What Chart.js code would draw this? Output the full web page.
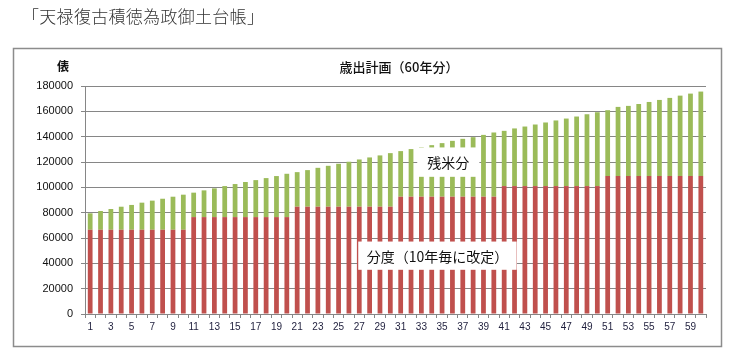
<!DOCTYPE html>
<html lang="ja">
<head>
<meta charset="utf-8">
<title>天禄復古積徳為政御土台帳</title>
<script src="https://cdn.jsdelivr.net/npm/chart.js@4/dist/chart.umd.min.js"></script>
<style>
  html, body { margin: 0; padding: 0; background: #fff; }
  #wrap { position: relative; width: 738px; height: 358px; }
  #grafico { position: absolute; left: 0; top: 0; }
  #encabezado {
    position: absolute; left: 22px; top: 3px;
    font-family: "Noto Sans CJK JP", sans-serif; font-weight: 300;
    font-size: 17px; color: #333; letter-spacing: 0.3px;
  }
</style>
</head>
<body>
<div id="wrap">
  <canvas id="grafico" width="738" height="358"></canvas>
  <div id="encabezado">「天禄復古積徳為政御土台帳」</div>
</div>
<script>
// años del plan (60 años)
const anios = [
  '1','2','3','4','5','6','7','8','9','10',
  '11','12','13','14','15','16','17','18','19','20',
  '21','22','23','24','25','26','27','28','29','30',
  '31','32','33','34','35','36','37','38','39','40',
  '41','42','43','44','45','46','47','48','49','50',
  '51','52','53','54','55','56','57','58','59','60'
];

// 分度 (se revisa cada 10 años)
const bundo = [
  66500, 66500, 66500, 66500, 66500, 66500, 66500, 66500, 66500, 66500,
  76500, 76500, 76500, 76500, 76500, 76500, 76500, 76500, 76500, 76500,
  84700, 84700, 84700, 84700, 84700, 84700, 84700, 84700, 84700, 84700,
  92600, 92600, 92600, 92600, 92600, 92600, 92600, 92600, 92600, 92600,
  101000, 101000, 101000, 101000, 101000, 101000, 101000, 101000, 101000, 101000,
  108900, 108900, 108900, 108900, 108900, 108900, 108900, 108900, 108900, 108900
];

// 残米分
const zanmai = [
  13000, 14800, 16400, 18200, 19600, 21400, 23000, 24500, 26100, 27700,
  19300, 21100, 22700, 24500, 26100, 27700, 29200, 30800, 32400, 34200,
  27300, 28900, 30700, 32300, 33900, 35500, 37300, 38900, 40500, 42300,
  36000, 37600, 39100, 40700, 42300, 44100, 45700, 47000, 48800, 50700,
  43600, 45500, 47000, 48600, 50200, 51800, 53300, 54900, 56700, 58300,
  52000, 54600, 55400, 56900, 58500, 60100, 61700, 63500, 65100, 66700
];

const ticksY = [0, 20000, 40000, 60000, 80000, 100000, 120000, 140000, 160000, 180000];

// etiquetas dentro del gráfico: texto, rango de categorías y rango de valores
const notas = [
  { texto: '残米分', desde: 31.6, hasta: 37.6, arriba: 131500, abajo: 108300 },
  { texto: '分度（10年毎に改定）', desde: 25.9, hasta: 41.2, arriba: 57200, abajo: 34900 }
];

const fuenteCJK = '"Noto Sans CJK JP", sans-serif';

const decoraciones = {
  id: 'decoraciones',
  afterDatasetsDraw(chart) {
    const { ctx, scales: { x, y } } = chart;
    ctx.save();
    notas.forEach(n => {
      const x1 = x.getPixelForValue(n.desde);
      const x2 = x.getPixelForValue(n.hasta);
      const y1 = y.getPixelForValue(n.arriba);
      const y2 = y.getPixelForValue(n.abajo);
      ctx.fillStyle = '#ffffff';
      ctx.fillRect(x1, y1, x2 - x1, y2 - y1);
      ctx.fillStyle = '#111';
      ctx.font = '14px ' + fuenteCJK;
      ctx.textAlign = 'center';
      ctx.textBaseline = 'middle';
      ctx.fillText(n.texto, (x1 + x2) / 2, (y1 + y2) / 2 + 1);
    });
    ctx.restore();
  },
  afterDraw(chart) {
    const { ctx } = chart;
    ctx.save();
    // marco exterior
    ctx.strokeStyle = '#8c8c8c';
    ctx.lineWidth = 1.5;
    ctx.strokeRect(13.5, 48.5, 708, 298);
    // unidad del eje
    ctx.fillStyle = '#111';
    ctx.font = 'bold 12px ' + fuenteCJK;
    ctx.textAlign = 'center';
    ctx.textBaseline = 'middle';
    ctx.fillText('俵', 63, 66);
    // título
    ctx.font = '500 13px ' + fuenteCJK;
    ctx.fillText('歳出計画（60年分）', 399, 67);
    ctx.restore();
  }
};

new Chart(document.getElementById('grafico'), {
  type: 'bar',
  data: {
    labels: anios,
    datasets: [
      {
        label: '分度',
        data: bundo,
        backgroundColor: '#C0504D',
        categoryPercentage: 1,
        barPercentage: 0.46
      },
      {
        label: '残米分',
        data: zanmai,
        backgroundColor: '#9BBB59',
        categoryPercentage: 1,
        barPercentage: 0.46
      }
    ]
  },
  options: {
    responsive: false,
    animation: false,
    layout: { padding: { left: 13, right: 32, top: 86, bottom: 24 } },
    plugins: {
      legend: { display: false },
      tooltip: { enabled: false },
      title: { display: false }
    },
    scales: {
      x: {
        stacked: true,
        afterFit(scale) { scale.height = 20; },
        grid: {
          offset: true,
          drawOnChartArea: false,
          drawTicks: true,
          tickLength: 4,
          color: '#868686'
        },
        border: { color: '#868686', width: 1 },
        ticks: {
          autoSkip: false,
          maxRotation: 0,
          padding: 3,
          color: '#1e1e3c',
          font: { family: 'Liberation Sans', size: 10 },
          callback(value, index) {
            return index % 2 === 0 ? this.getLabelForValue(value) : '';
          }
        }
      },
      y: {
        stacked: true,
        min: 0,
        max: 180000,
        afterFit(scale) { scale.width = 72; },
        afterBuildTicks(scale) {
          scale.ticks = ticksY.map(v => ({ value: v }));
        },
        grid: {
          color: '#868686',
          tickLength: 4,
          lineWidth: 1
        },
        border: { color: '#868686', width: 1 },
        ticks: {
          padding: 8,
          color: '#111',
          font: { family: 'Liberation Sans', size: 11 },
          callback(value) { return String(value); }
        }
      }
    }
  },
  plugins: [decoraciones]
});
</script>
</body>
</html>
